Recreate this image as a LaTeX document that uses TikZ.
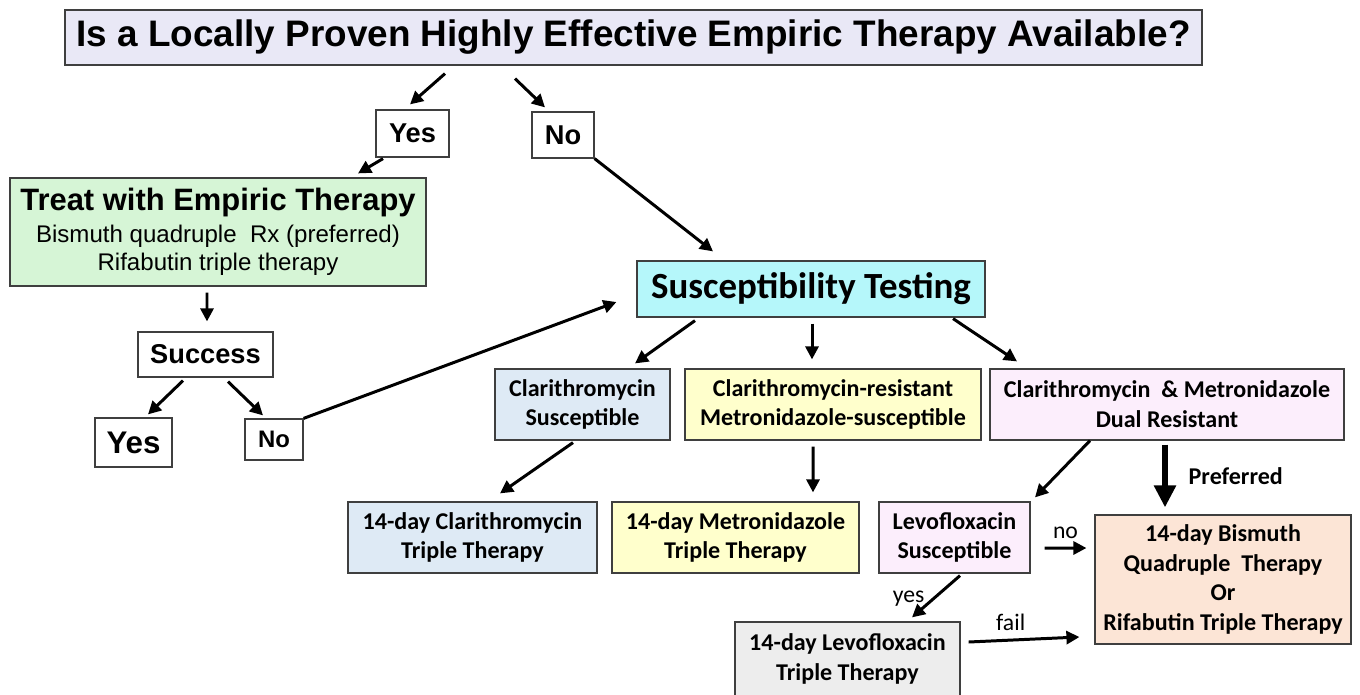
\documentclass[tikz,border=0pt]{standalone}
\usepackage{fontspec}
\setmainfont{Liberation Sans}
\newfontfamily\calfont{Carlito}
\usetikzlibrary{arrows.meta,positioning,calc}
\definecolor{edge}{HTML}{3F3F3F}
\definecolor{lavender}{HTML}{E9E8F6}
\definecolor{mint}{HTML}{D6F5D6}
\definecolor{aqua}{HTML}{B5F7FA}
\definecolor{skyfill}{HTML}{DEEAF5}
\definecolor{lemon}{HTML}{FFFFCC}
\definecolor{orchid}{HTML}{FCEEFC}
\definecolor{peach}{HTML}{FCE5D6}
\definecolor{greyfill}{HTML}{EDEDED}
\tikzset{
  >={Triangle[length=2.6mm,width=2.6mm]},
  flow/.style={->,draw=black,line width=1.7pt},
  bigflow/.style={-{Triangle[length=4.4mm,width=4.2mm]},draw=black,line width=3.2pt},
  box/.style={draw=edge,line width=0.7pt,inner sep=0pt,align=center,text=black},
  headtext/.style={font=\fontsize{21}{24}\selectfont\bfseries},
  answer/.style={font=\fontsize{15.5}{18}\selectfont\bfseries},
  caltext/.style={font=\calfont\fontsize{13.7}{17}\selectfont\bfseries},
  edgelabel/.style={font=\calfont\fontsize{13.5}{15}\selectfont},
}

\begin{document}
\begin{tikzpicture}[x=0.02cm,y=-0.02cm]
\useasboundingbox (0,0) rectangle (1360,694);

% question ---------------------------------------------------------------------
\node[box,fill=lavender,minimum width=22.74cm,minimum height=1.10cm,headtext] (quest) at (633.5,37.5) {Is a Locally Proven Highly Effective Empiric Therapy Available?};
\node[box,fill=white,minimum width=1.46cm,minimum height=0.94cm,answer] (yesA) at (412.5,133.5) {Yes};
\node[box,fill=white,minimum width=1.24cm,minimum height=0.92cm,answer] (noA) at (563,135) {No};
\draw[flow] ([shift={(-188.5,8)}]quest.south) -- ([shift={(-2.5,-5)}]yesA.north);
\draw[flow] ([shift={(-118.5,13)}]quest.south) -- ([shift={(-18,-4)}]noA.north);

% empiric branch ---------------------------------------------------------------
\node[box,fill=mint,minimum width=8.32cm,minimum height=2.16cm,font=\fontsize{13.7}{16}\selectfont] (treat) at (218,232) {{\fontsize{17.6}{20}\selectfont\bfseries Treat with Empiric Therapy}\\[2pt]
  Bismuth quadruple\ \ Rx (preferred)\\
  Rifabutin triple therapy};
\node[box,fill=white,minimum width=2.70cm,minimum height=0.90cm,answer] (succ) at (205.5,354.5) {Success};
\node[box,fill=white,minimum width=1.54cm,minimum height=0.98cm,font=\fontsize{17.8}{20}\selectfont\bfseries] (yesB) at (133.5,442.5) {Yes};
\node[box,fill=white,minimum width=1.16cm,minimum height=0.82cm,font=\fontsize{13.6}{15}\selectfont\bfseries] (noB) at (274,439.5) {No};
\draw[flow] ([shift={(-29.5,1)}]yesA.south) -- ([shift={(140,-4)}]treat.north);
\draw[flow] ([shift={(-11,6)}]treat.south) -- ([shift={(1.5,-10)}]succ.north);
\draw[flow] ([shift={(-22.5,3)}]succ.south) -- ([shift={(14.5,-3)}]yesB.north);
\draw[flow] ([shift={(22.5,4)}]succ.south) -- ([shift={(-11,-3)}]noB.north);

% susceptibility testing -------------------------------------------------------
\node[box,fill=aqua,minimum width=6.96cm,minimum height=1.12cm,font=\calfont\fontsize{21}{23}\selectfont\bfseries] (susc) at (811,289) {Susceptibility Testing};
\draw[flow] (noA.south east) -- ([shift={(-98,-9)}]susc.north);
\draw[flow] (noB.north east) -- ([shift={(-20,13)}]susc.west);

\node[box,fill=skyfill,minimum width=3.50cm,minimum height=1.42cm,caltext] (claS) at (582.5,404.5) {Clarithromycin\\Susceptible};
\node[box,fill=lemon,minimum width=5.92cm,minimum height=1.42cm,caltext] (claR) at (833,404.5) {Clarithromycin-resistant\\Metronidazole-susceptible};
\node[box,fill=orchid,minimum width=7.08cm,minimum height=1.42cm,caltext] (dual) at (1167,404.5) {Clarithromycin\ \ \&\ Metronidazole\\Dual Resistant};
\draw[flow] ([shift={(-116,3)}]susc.south) -- ([shift={(52.5,-5)}]claS.north);
\draw[flow] ([shift={(1,6)}]susc.south) -- ([shift={(-21,-9)}]claR.north);
\draw[flow] ([shift={(142,1)}]susc.south) -- ([shift={(-150,-7)}]dual.north);

% treatments -------------------------------------------------------------------
\node[box,fill=skyfill,minimum width=4.98cm,minimum height=1.42cm,caltext] (claT) at (472.5,537.5) {14-day Clarithromycin\\Triple Therapy};
\node[box,fill=lemon,minimum width=4.94cm,minimum height=1.42cm,caltext] (metT) at (735.5,537.5) {14-day Metronidazole\\Triple Therapy};
\node[box,fill=orchid,minimum width=3.02cm,minimum height=1.42cm,caltext] (levS) at (954.5,537.5) {Levofloxacin\\Susceptible};
\node[box,fill=peach,minimum width=5.12cm,minimum height=2.58cm,caltext] (bis) at (1223,579.5) {14-day Bismuth\\Quadruple\ \ Therapy\\Or\\Rifabutin\ Triple Therapy};
\node[box,fill=greyfill,minimum width=4.50cm,minimum height=1.48cm,caltext] (levT) at (847.5,659) {14-day Levofloxacin\\Triple Therapy};
\draw[flow] ([shift={(-9.5,2)}]claS.south) -- ([shift={(27.5,-8)}]claT.north);
\draw[flow] ([shift={(-20,6)}]claR.south) -- ([shift={(77.5,-9)}]metT.north);
\draw[flow] ([shift={(-77,0)}]dual.south) -- ([shift={(80.5,-4)}]levS.north);
\draw[bigflow] ([shift={(-2,4)}]dual.south) -- node[right=3mm,caltext] {Preferred} ([shift={(-58,-7)}]bis.north);
\draw[flow] ([shift={(14,10.5)}]levS.east) -- node[above=1pt,edgelabel] {no} ([shift={(-8,-31.5)}]bis.west);
\draw[flow] ([shift={(5.5,2)}]levS.south) -- node[left=1pt,pos=0.55,edgelabel] {yes} ([shift={(64.5,-4)}]levT.north);
\draw[flow] ([shift={(8,-17)}]levT.east) -- node[above=1pt,pos=0.38,edgelabel] {fail} ([shift={(-15,57.5)}]bis.west);

\end{tikzpicture}
\end{document}
